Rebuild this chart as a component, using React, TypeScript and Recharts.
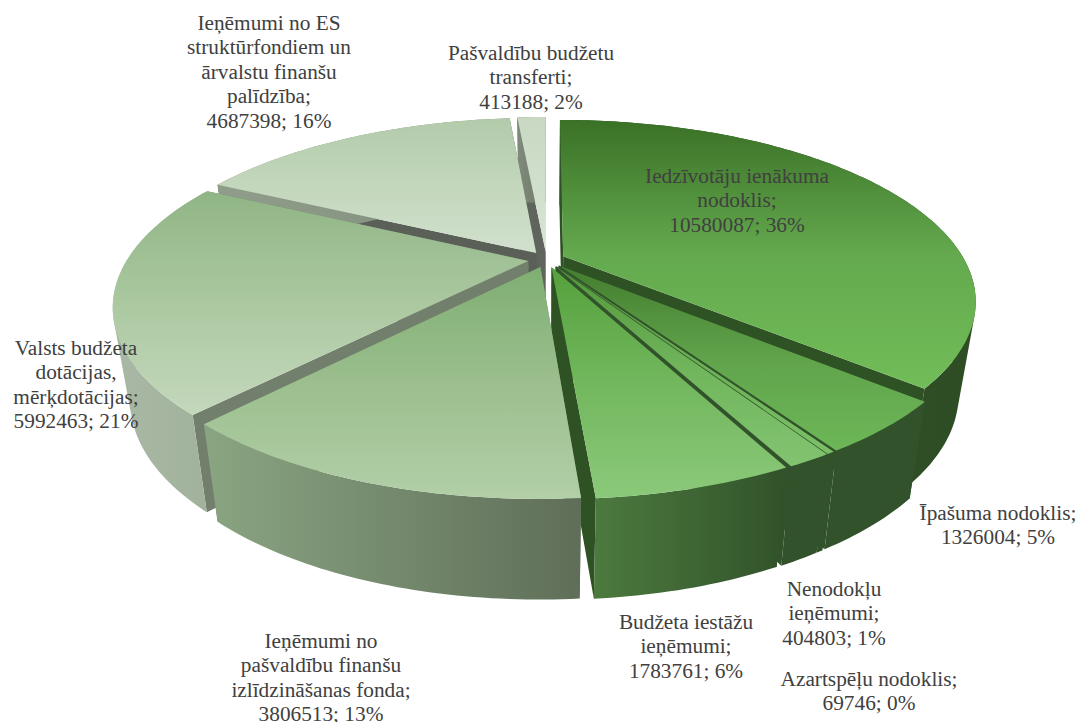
import React from 'react'
import { PieChart, Pie } from 'recharts'

const sliceNames = [
  'Iedzīvotāju ienākuma nodoklis',
  'Īpašuma nodoklis',
  'Azartspēļu nodoklis',
  'Nenodokļu ieņēmumi',
  'Budžeta iestāžu ieņēmumi',
  'Ieņēmumi no pašvaldību finanšu izlīdzināšanas fonda',
  'Valsts budžeta dotācijas, mērķdotācijas',
  'Ieņēmumi no ES struktūrfondiem un ārvalstu finanšu palīdzība',
  'Pašvaldību budžetu transferti',
]
const sliceValues = [10580087, 1326004, 69746, 404803, 1783761, 3806513, 5992463, 4687398, 413188]
const slicePercents = ['36%', '5%', '0%', '1%', '6%', '13%', '21%', '16%', '2%']

const labelLines = [
  ['Iedzīvotāju ienākuma', 'nodoklis;'],
  ['Īpašuma nodoklis;'],
  ['Azartspēļu nodoklis;'],
  ['Nenodokļu', 'ieņēmumi;'],
  ['Budžeta iestāžu', 'ieņēmumi;'],
  ['Ieņēmumi no', 'pašvaldību finanšu', 'izlīdzināšanas fonda;'],
  ['Valsts budžeta', 'dotācijas,', 'mērķdotācijas;'],
  ['Ieņēmumi no ES', 'struktūrfondiem un', 'ārvalstu finanšu', 'palīdzība;'],
  ['Pašvaldību budžetu', 'transferti;'],
]
// centre x and first baseline of each label block
const labelX = [737, 998, 869, 834, 686, 321, 76, 269, 531]
const labelY = [183, 520, 686, 596, 629, 648, 355, 30, 60]

// top face gradient (back to front), outer wall gradient (left to right), cut wall
const topFrom = ['#3a7126', '#437d2e', '#4d8c37', '#519639', '#55a03c', '#7fae72', '#90b585', '#b2cbaa', '#c8d8c3']
const topMid = ['#64a94e', '#60a34b', '#6ab054', '#70b55c', '#72b75d', '#9bbf8e', '#abc8a0', '#c3d7bc', '#d0dfcb']
const topTo = ['#71bd58', '#6db758', '#7cbf69', '#82c370', '#8bc97a', '#b2cfa8', '#c4d8bc', '#d1e0cd', '#d8e4d5']
const wallFrom = ['#31522a', '#31522a', '#31522a', '#31522a', '#4c7a3e', '#8aa582', '#a9b8a5', '#8f9d8a', '#7f8a7a']
const wallTo = ['#2e4d24', '#31522a', '#31522a', '#31522a', '#31522a', '#5f6e58', '#a0b19a', '#7f8d7a', '#6f7a6a']
const cutWall = ['#2f5224', '#31522a', '#31522a', '#31522a', '#2f5224', '#75856e', '#727f6c', '#5a6057', '#5f655c']

// back slices first so nearer slices cover them
const paintOrder = [8, 7, 6, 0, 1, 2, 3, 4, 5]

const chartData = sliceNames.map((name, i) => ({ name, value: sliceValues[i] }))

const PIE_CX = 546.5
const PIE_CY = 259.5
const PIE_R = 401
const SQUASH = 0.4265
const PERSPECTIVE = 0.244
const EXPLODE = 0.046
const BOTTOM_X = 0.96
const BOTTOM_Y = 1.04
const DEPTH = 91

type Pt = { x: number; y: number }

function topPoint(cx: number, cy: number, r: number, u: number, v: number): Pt {
  const f = 1 / (1 + PERSPECTIVE * v)
  return { x: cx + r * u * f, y: cy - r * SQUASH * v * f }
}

function bottomPoint(cx: number, cy: number, p: Pt): Pt {
  return { x: cx + (p.x - cx) * BOTTOM_X, y: cy + (p.y - cy) * BOTTOM_Y + DEPTH }
}

function toPath(points: Pt[]) {
  return 'M' + points.map((p) => `${p.x.toFixed(2)},${p.y.toFixed(2)}`).join('L') + 'Z'
}

// one quad per rim step, all wound the same way, so the swept side fills completely
function wallPath(rim: Pt[], bottomRim: Pt[]) {
  let d = ''
  for (let i = 0; i < rim.length - 1; i++) {
    const quad = [rim[i], rim[i + 1], bottomRim[i + 1], bottomRim[i]]
    let area = 0
    quad.forEach((p, j) => {
      const q = quad[(j + 1) % 4]
      area += p.x * q.y - q.x * p.y
    })
    d += toPath(area > 0 ? quad : [...quad].reverse())
  }
  return d
}

function sliceShape(only: number) {
  return function SliceShape(props: any) {
    const { cx, cy, outerRadius, startAngle, endAngle, name } = props
    const index = sliceNames.indexOf(name)
    if (index !== only) return null

    // recharts angles run counter-clockwise from 3 o'clock
    const from = ((90 - startAngle) * Math.PI) / 180
    const to = ((90 - endAngle) * Math.PI) / 180
    const mid = (from + to) / 2
    const ox = EXPLODE * Math.sin(mid)
    const oy = EXPLODE * Math.cos(mid)

    const apex = topPoint(cx, cy, outerRadius, ox, oy)
    const rim: Pt[] = []
    const steps = Math.max(2, Math.ceil(((to - from) * 180) / Math.PI))
    for (let s = 0; s <= steps; s++) {
      const a = from + ((to - from) * s) / steps
      rim.push(topPoint(cx, cy, outerRadius, ox + Math.sin(a), oy + Math.cos(a)))
    }
    const bottomRim = rim.map((p) => bottomPoint(cx, cy, p))
    const bottomApex = bottomPoint(cx, cy, apex)

    const topId = `top-${index}`
    const wallId = `wall-${index}`
    return (
      <g>
        <defs>
          <linearGradient id={topId} x1="0" y1="0" x2="0" y2="1">
            <stop offset="0%" stopColor={topFrom[index]} />
            <stop offset="50%" stopColor={topMid[index]} />
            <stop offset="100%" stopColor={topTo[index]} />
          </linearGradient>
          <linearGradient id={wallId} x1="0" y1="0" x2="1" y2="0">
            <stop offset="0%" stopColor={wallFrom[index]} />
            <stop offset="100%" stopColor={wallTo[index]} />
          </linearGradient>
        </defs>
        <path d={toPath([apex, rim[0], bottomRim[0], bottomApex])} fill={cutWall[index]} />
        <path d={toPath([apex, rim[rim.length - 1], bottomRim[rim.length - 1], bottomApex])} fill={cutWall[index]} />
        <path d={wallPath(rim, bottomRim)} fill={`url(#${wallId})`} />
        <path d={toPath([apex, ...rim])} fill={`url(#${topId})`} />
      </g>
    )
  }
}

function renderLabel(props: any) {
  const index = sliceNames.indexOf(props.name)
  const lines = [...labelLines[index], `${sliceValues[index]}; ${slicePercents[index]}`]
  return (
    <text
      key={props.name}
      x={labelX[index]}
      y={labelY[index]}
      textAnchor="middle"
      fontFamily="'Liberation Serif', serif"
      fontSize={21.3}
      fill="#404040"
    >
      {lines.map((line, i) => (
        <tspan key={i} x={labelX[index]} y={labelY[index] + i * 24.4}>
          {line}
        </tspan>
      ))}
    </text>
  )
}

export default function App() {
  return (
    <div style={{ position: 'absolute', left: 0, top: 0, width: 1078, height: 722, background: '#fff' }}>
      <PieChart width={1078} height={722} margin={{ top: 0, right: 0, bottom: 0, left: 0 }}>
        {paintOrder.map((only) => (
          <Pie
            key={only}
            data={chartData}
            dataKey="value"
            nameKey="name"
            cx={PIE_CX}
            cy={PIE_CY}
            outerRadius={PIE_R}
            startAngle={90}
            endAngle={-270}
            stroke="none"
            isAnimationActive={false}
            shape={sliceShape(only)}
          />
        ))}
        <Pie
          data={chartData}
          dataKey="value"
          nameKey="name"
          cx={PIE_CX}
          cy={PIE_CY}
          outerRadius={PIE_R}
          startAngle={90}
          endAngle={-270}
          stroke="none"
          isAnimationActive={false}
          shape={() => null}
          label={renderLabel}
          labelLine={false}
        />
      </PieChart>
    </div>
  )
}
